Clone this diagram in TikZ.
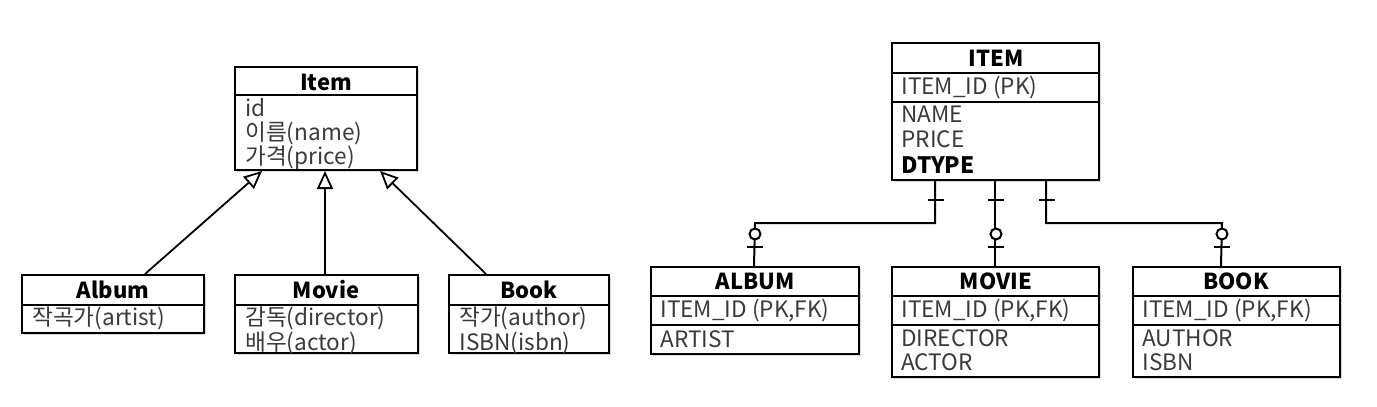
\documentclass[tikz,border=0pt]{standalone}
\usepackage{fontspec}
\setmainfont{Noto Sans CJK KR}
\usetikzlibrary{arrows.meta,shadows,fit,calc}
\definecolor{attrgray}{HTML}{3A3A3A}
\begin{document}
\begin{tikzpicture}[x=0.5pt,y=-0.5pt,
  box/.style={draw, fill=white, line width=1pt, inner sep=0pt,
    drop shadow={shadow xshift=1.2pt, shadow yshift=-1.2pt, opacity=0.3}},
  sepline/.style={line width=1pt},
  ttl/.style={inner sep=0pt, font=\fontsize{11}{13}\selectfont\bfseries},
  attr/.style={anchor=west, inner sep=0pt, text=attrgray, font=\fontsize{11.3}{13}\selectfont},
  gen/.style={line width=0.9pt, -{Triangle[open,length=9pt,width=8pt]}},
  rel/.style={line width=1pt},
  crowmark/.style={line width=1pt}
]
\useasboundingbox (0,0) rectangle (1377,407);

% ---------- left: class diagram ----------
\node[box, fit={(235,67)(417,170)}] (item) {};
\node[box, fit={(22,275)(204,333)}] (album) {};
\node[box, fit={(235,275)(418,353)}] (movie) {};
\node[box, fit={(449,275)(609,353)}] (book) {};
\draw[sepline] (item.west |- 0,95) -- (item.east |- 0,95);
\draw[sepline] (album.west |- 0,305) -- (album.east |- 0,305);
\draw[sepline] (movie.west |- 0,305) -- (movie.east |- 0,305);
\draw[sepline] (book.west |- 0,305) -- (book.east |- 0,305);

\node[ttl] (itemT) at (326,82) {Item};
\node[attr] (itemA1) at (245,108) {id};
\node[attr] (itemA2) at (245,133) {이름(name)};
\node[attr] (itemA3) at (245,158) {가격(price)};
\node[ttl] (albumT) at (113,290) {Album};
\node[attr] (albumA1) at (32,318) {작곡가(artist)};
\node[ttl] (movieT) at (326,290) {Movie};
\node[attr] (movieA1) at (245,318) {감독(director)};
\node[attr] (movieA2) at (245,343) {배우(actor)};
\node[ttl] (bookT) at (529,290) {Book};
\node[attr] (bookA1) at (459,318) {작가(author)};
\node[attr] (bookA2) at (459,343) {ISBN(isbn)};

\draw[gen] ($(album.north west)+(124,0)$) -- ($(item.south west)+(28,0)$);
\draw[gen] ($(movie.north west)+(91,0)$) -- ($(item.south west)+(91,0)$);
\draw[gen] ($(book.north west)+(38,0)$) -- ($(item.south west)+(146,0)$);

% ---------- right: ER diagram ----------
\node[box, fit={(892,43)(1099,180)}] (ITEM) {};
\node[box, fit={(651,267)(859,354)}] (ALBUM) {};
\node[box, fit={(892,267)(1099,377)}] (MOVIE) {};
\node[box, fit={(1133,267)(1340,377)}] (BOOK) {};
\draw[sepline] (ITEM.west |- 0,73) -- (ITEM.east |- 0,73);
\draw[sepline] (ITEM.west |- 0,102) -- (ITEM.east |- 0,102);
\foreach \b in {ALBUM,MOVIE,BOOK}{
  \draw[sepline] (\b.west |- 0,296) -- (\b.east |- 0,296);
  \draw[sepline] (\b.west |- 0,325) -- (\b.east |- 0,325);
}

\node[ttl] (ITEMT) at (996,58) {ITEM};
\node[attr] (ITEMA1) at (901,87) {ITEM\_ID (PK)};
\node[attr] (ITEMA2) at (901,114) {NAME};
\node[attr] (ITEMA3) at (901,139) {PRICE};
\node[attr, text=black, font=\fontsize{11.3}{13}\selectfont\bfseries] (ITEMA4) at (901,165) {DTYPE};
\node[ttl] (ALBUMT) at (755,281) {ALBUM};
\node[attr] (ALBUMA1) at (660,310) {ITEM\_ID (PK,FK)};
\node[attr] (ALBUMA2) at (660,339) {ARTIST};
\node[ttl] (MOVIET) at (996,281) {MOVIE};
\node[attr] (MOVIEA1) at (901,310) {ITEM\_ID (PK,FK)};
\node[attr] (MOVIEA2) at (901,338) {DIRECTOR};
\node[attr] (MOVIEA3) at (901,362) {ACTOR};
\node[ttl] (BOOKT) at (1236,281) {BOOK};
\node[attr] (BOOKA1) at (1142,310) {ITEM\_ID (PK,FK)};
\node[attr] (BOOKA2) at (1142,338) {AUTHOR};
\node[attr] (BOOKA3) at (1142,362) {ISBN};

% connectors
\draw[rel] ($(ITEM.south west)+(44,0)$) |- (755,223) -- ($(ALBUM.north west)+(104,0)$);
\draw[rel] ($(ITEM.south west)+(104,0)$) -- ($(MOVIE.north west)+(104,0)$);
\draw[rel] ($(ITEM.south west)+(155,0)$) |- (1222,223) -- ($(BOOK.north west)+(89,0)$);

% one-mark at parent side
\foreach \x in {936,996,1047}{
  \draw[crowmark] (\x-8,200) -- (\x+8,200);
}
% zero-or-one at child side
\foreach \x in {755,996,1222}{
  \draw[crowmark, fill=white] (\x,234) circle (5.5);
  \draw[crowmark] (\x-8,247) -- (\x+8,247);
}
\end{tikzpicture}
\end{document}
